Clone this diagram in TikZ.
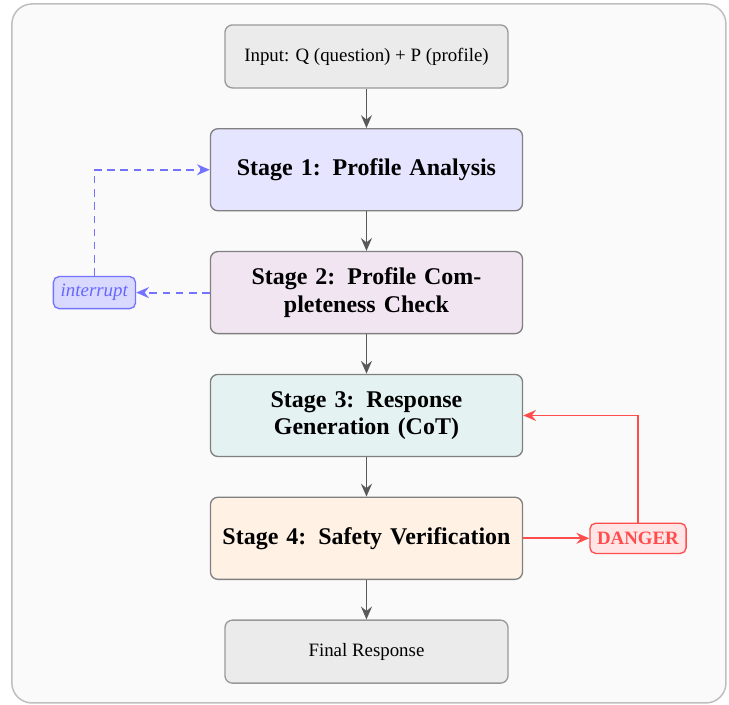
\documentclass[tikz,border=0pt]{standalone}
\usepackage{fontspec}
\setmainfont{Liberation Serif}
\usetikzlibrary{positioning, arrows.meta}
\tikzset{
  >={Stealth[length=6.8pt, width=5.8pt, inset=2.3pt]},
  node distance=20.9pt,
  stage/.style={draw=black!50, line width=0.7pt, rounded corners=4pt,
    minimum width=165.4pt, minimum height=43.5pt, text width=158pt,
    inner xsep=3.7pt, align=center, font=\fontsize{12.7}{14.5}\selectfont\bfseries},
  io/.style={draw=black!40, fill=black!8, line width=0.7pt, rounded corners=4pt,
    minimum width=150pt, minimum height=33.4pt},
  tag/.style={line width=0.7pt, rounded corners=3pt, inner sep=2pt},
  flow/.style={->, line width=1pt, draw=black!65},
  back/.style={->, line width=1pt, dash pattern=on 4pt off 3pt, draw=blue!55},
  alert/.style={->, line width=1pt, draw=red!70},
}

\begin{document}
\begin{tikzpicture}
		\useasboundingbox (-194.2pt,29.9pt) rectangle (192.1pt,-343.2pt);
		\draw[draw=black!25, fill=black!2, line width=0.8pt, rounded corners=10.6pt]
		(-187.9pt,27.8pt) rectangle (190.5pt,-342.6pt);

		% pipeline
		\node[io] (input) {Input: Q (question) + P (profile)};
		\node[stage, fill=blue!10, below=of input] (s1) {Stage 1: Profile Analysis};
		\node[stage, fill=violet!10, below=of s1] (s2) {Stage 2: Profile Completeness Check};
		\node[stage, fill=teal!10, below=of s2] (s3) {Stage 3: Response Generation (CoT)};
		\node[stage, fill=orange!10, below=of s3] (s4) {Stage 4: Safety Verification};
		\node[io, below=of s4] (final) {Final Response};

		% side tags
		\node[tag, draw=blue!55, fill=blue!15, text=blue!60, minimum width=43.5pt,
		minimum height=17pt, left=39pt of s2] (interrupt) {\textit{interrupt}};
		\node[tag, draw=red!70, fill=red!10, text=red!70, minimum width=51pt,
		minimum height=16pt, right=35pt of s4] (danger) {\textbf{DANGER}};

		% arrows
		\draw[flow] (input) -- (s1);
		\draw[flow] (s1) -- (s2);
		\draw[flow] (s2) -- (s3);
		\draw[flow] (s3) -- (s4);
		\draw[flow] (s4) -- (final);
		\draw[back] (s2) -- (interrupt);
		\draw[back] (interrupt) |- (s1);
		\draw[alert] (s4) -- (danger);
		\draw[alert] (danger) |- (s3);

	\end{tikzpicture}
\end{document}
